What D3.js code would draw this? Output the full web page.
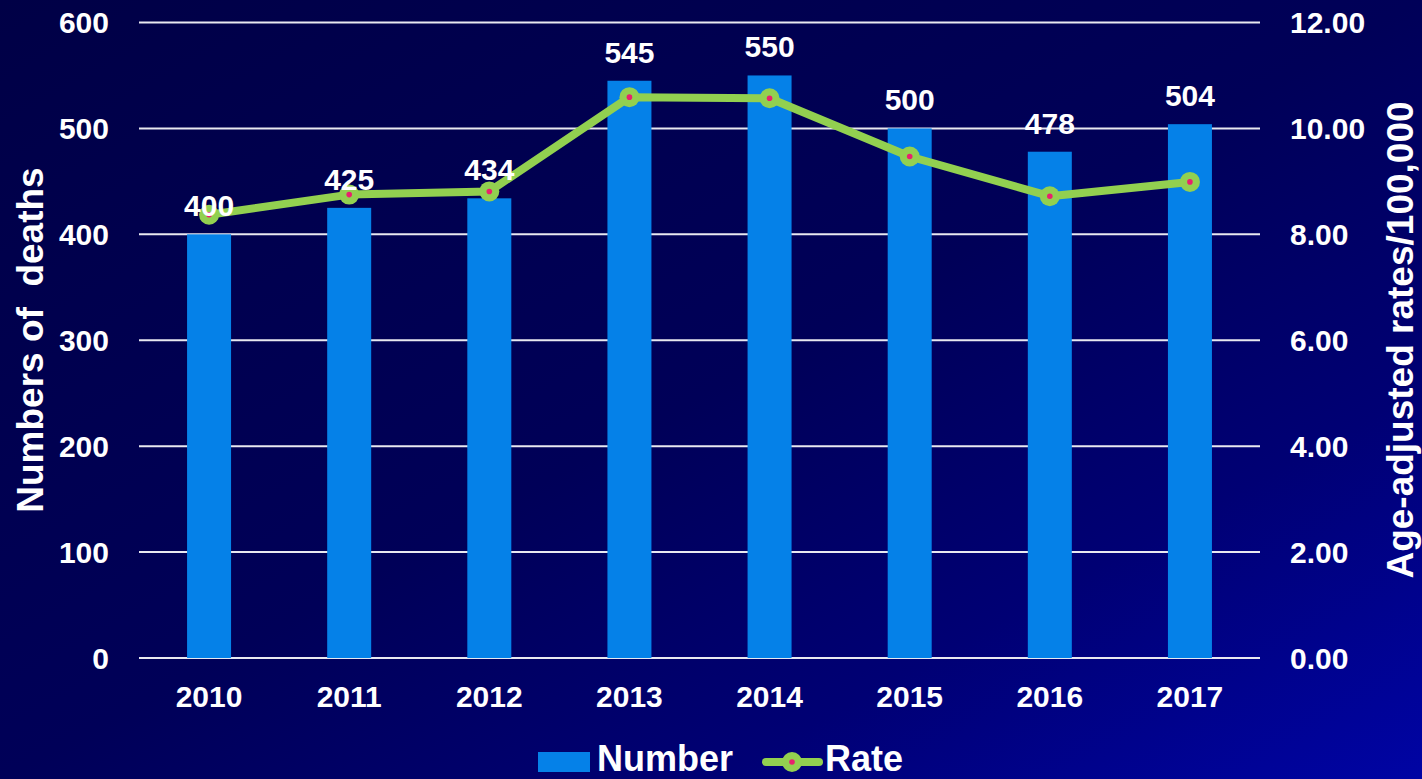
<!DOCTYPE html>
<html><head><meta charset="utf-8">
<script src="https://cdn.jsdelivr.net/npm/d3@7"></script>
<style>html,body{margin:0;padding:0;overflow:hidden;background:#00004f}</style>
</head><body>
<script>
const years = ["2010","2011","2012","2013","2014","2015","2016","2017"];
const deaths = [400,425,434,545,550,500,478,504];
const rates = [8.37,8.75,8.81,10.59,10.57,9.47,8.72,8.99];
const leftTicks = [0,100,200,300,400,500,600];
const rightTicks = [0,2,4,6,8,10,12];

const W=1422,H=779;
const svg=d3.select("body").append("svg").attr("width",W).attr("height",H);
const defs=svg.append("defs");
const g=defs.append("linearGradient").attr("id","bg").attr("x1","0").attr("y1","0").attr("x2","1").attr("y2","1");
g.append("stop").attr("offset","0").attr("stop-color","#000046");
g.append("stop").attr("offset","0.5").attr("stop-color","#000058");
g.append("stop").attr("offset","0.75").attr("stop-color","#000074");
g.append("stop").attr("offset","1").attr("stop-color","#0004a4");
svg.append("rect").attr("width",W).attr("height",H).attr("fill","url(#bg)");

const L=139,R=1260,T=22.5,B=658;
const x=d3.scaleBand().domain(years).range([L,R]).paddingInner(0.686).paddingOuter(0.343);
const y=d3.scaleLinear().domain([0,600]).range([B,T]);
const y2=d3.scaleLinear().domain([0,12]).range([B,T]);
const font="'Liberation Sans', Arial, sans-serif";

// gridlines
svg.append("g").selectAll("line").data(leftTicks).join("line")
 .attr("x1",L).attr("x2",R).attr("y1",d=>y(d)).attr("y2",d=>y(d))
 .attr("stroke","#e8e8f0").attr("stroke-width",2);

// bars
svg.append("g").selectAll("rect").data(deaths).join("rect")
 .attr("x",(d,i)=>x(years[i])).attr("width",x.bandwidth())
 .attr("y",d=>y(d)).attr("height",d=>B-y(d)).attr("fill","#0581e8");

// line
const cx=i=>x(years[i])+x.bandwidth()/2;
svg.append("path").datum(rates)
 .attr("d",d3.line().x((d,i)=>cx(i)).y(d=>y2(d)))
 .attr("fill","none").attr("stroke","#92d050").attr("stroke-width",8).attr("stroke-linejoin","round");
svg.append("g").selectAll("circle").data(rates).join("circle")
 .attr("cx",(d,i)=>cx(i)).attr("cy",d=>y2(d)).attr("r",10).attr("fill","#92d050");
svg.append("g").selectAll("circle").data(rates).join("circle")
 .attr("cx",(d,i)=>cx(i)).attr("cy",d=>y2(d)).attr("r",2.8).attr("fill","#e8206e");

// bar labels
svg.append("g").selectAll("text").data(deaths).join("text")
 .attr("x",(d,i)=>cx(i)).attr("y",d=>y(d)-18)
 .attr("text-anchor","middle").attr("font-family",font).attr("font-weight","bold")
 .attr("font-size",30).attr("fill","#fff").text(d=>d);

// left ticks
svg.append("g").selectAll("text").data(leftTicks).join("text")
 .attr("x",109).attr("y",d=>y(d)).attr("dy","0.36em").attr("text-anchor","end")
 .attr("font-family",font).attr("font-weight","bold").attr("font-size",30).attr("fill","#fff").text(d=>d);
// right ticks
svg.append("g").selectAll("text").data(rightTicks).join("text")
 .attr("x",1290).attr("y",d=>y2(d)).attr("dy","0.36em").attr("text-anchor","start")
 .attr("font-family",font).attr("font-weight","bold").attr("font-size",30).attr("fill","#fff").text(d=>d.toFixed(2));
// x labels
svg.append("g").selectAll("text").data(years).join("text")
 .attr("x",d=>x(d)+x.bandwidth()/2).attr("y",696).attr("dy","0.36em").attr("text-anchor","middle")
 .attr("font-family",font).attr("font-weight","bold").attr("font-size",30).attr("fill","#fff").text(d=>d);

// axis titles
svg.append("text").attr("transform","translate(43,340) rotate(-90)").attr("text-anchor","middle")
 .attr("font-family",font).attr("font-weight","bold").attr("font-size",37).attr("fill","#fff")
 .attr("xml:space","preserve").style("white-space","pre").text("Numbers of  deaths");
svg.append("text").attr("transform","translate(1413,340) rotate(-90)").attr("text-anchor","middle")
 .attr("font-family",font).attr("font-weight","bold").attr("font-size",37).attr("fill","#fff").text("Age-adjusted rates/100,000");

// legend
const lg=svg.append("g");
lg.append("rect").attr("x",538).attr("y",752).attr("width",52).attr("height",20).attr("fill","#0581e8");
lg.append("text").attr("x",597).attr("y",771).attr("font-family",font).attr("font-weight","bold").attr("font-size",36).attr("fill","#fff").text("Number");
lg.append("line").attr("x1",766).attr("x2",819).attr("y1",762).attr("y2",762).attr("stroke","#92d050").attr("stroke-width",8).attr("stroke-linecap","round");
lg.append("circle").attr("cx",792).attr("cy",762).attr("r",10).attr("fill","#92d050");
lg.append("circle").attr("cx",792).attr("cy",762).attr("r",2.8).attr("fill","#e8206e");
lg.append("text").attr("x",825).attr("y",771).attr("font-family",font).attr("font-weight","bold").attr("font-size",36).attr("fill","#fff").text("Rate");
</script>
</body></html>
